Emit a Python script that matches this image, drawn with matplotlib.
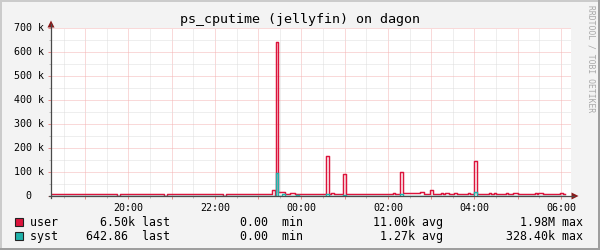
import matplotlib
matplotlib.use('Agg')
import matplotlib.pyplot as plt
from matplotlib.lines import Line2D
from matplotlib.patches import Polygon, Rectangle
from matplotlib.ticker import MultipleLocator
from matplotlib.transforms import blended_transform_factory

plt.rcParams['font.family'] = ['DejaVu Sans Mono']

# ---------------- data (values in thousands, time in hours; 24 = midnight) ----
user_t = [18.21, 19.73, 19.80, 20.82, 20.89, 22.18, 22.25, 23.32, 23.39, 23.41,
          23.46, 23.62, 23.74, 23.86, 24.57, 24.64, 24.68, 24.76, 24.96, 25.03,
          26.12, 26.17, 26.28, 26.35, 26.74, 26.83, 26.97, 27.04, 27.23, 27.27,
          27.32, 27.41, 27.53, 27.60, 27.85, 27.90, 27.99, 28.05, 28.34, 28.39,
          28.45, 28.50, 28.73, 28.78, 28.89, 29.01, 29.40, 29.45, 29.48, 29.58,
          29.98, 30.05, 30.09]
user_v = [6.5, 2.0, 6.5, 2.0, 6.5, 2.0, 6.5, 25, 6, 642,
          15, 10, 14, 9, 167, 10, 12, 8, 92, 7,
          14, 7, 101, 11, 15, 8, 24, 7, 13, 7,
          13, 7, 13, 7, 13, 7, 146, 7, 12, 7,
          12, 7, 12, 7, 12, 7, 12, 7, 12, 7,
          12, 6.5, 6.5]

syst_t = [18.21, 23.41, 23.46, 23.55, 23.62, 23.88, 23.94, 24.57, 24.64, 24.96,
          25.03, 26.28, 26.35, 27.99, 28.05, 30.09]
syst_v = [0.6, 97, 0.6, 8, 0.6, 6, 0.6, 8, 0.6, 6,
          0.6, 10, 0.6, 15, 0.6, 0.6]

y_ticks = [0, 100, 200, 300, 400, 500, 600, 700]
hour_grid = list(range(19, 31))
x_label_hours = [20, 22, 24, 26, 28, 30]
x_label_text = ["20:00", "22:00", "00:00", "02:00", "04:00", "06:00"]

series_names = ["user", "syst"]
series_colors = ["#dc143c", "#20b2aa"]
stat_last = ["6.50k", "642.86 "]
stat_min = ["0.00 ", "0.00 "]
stat_avg = ["11.00k", "1.27k"]
stat_max = ["1.98M", "328.40k"]

title = "ps_cputime (jellyfin) on dagon"
watermark = "RRDTOOL / TOBI OETIKER"

# ---------------- figure ----------------
W, H = 600, 250
fig = plt.figure(figsize=(6, 2.5), dpi=100, facecolor='#f3f3f3')


def fx(x):
    return x / W


def fy(y):
    return 1 - y / H


L, R, T, B = 51, 571, 28, 196
ax = fig.add_axes([fx(L), fy(B), (R - L) / W, (B - T) / H])
ax.set_facecolor('white')
ax.set_xlim(18.21, 18.21 + (R - L) / 43.25)
ax.set_ylim(0, 700)

for s in ax.spines.values():
    s.set_visible(False)

ax.xaxis.set_minor_locator(MultipleLocator(0.5))
ax.yaxis.set_minor_locator(MultipleLocator(50))
ax.set_xticks(hour_grid,
              labels=[x_label_text[x_label_hours.index(h)] if h in x_label_hours else ''
                      for h in hour_grid])
ax.set_yticks(y_ticks)
ax.grid(which='minor', color='#dedede', lw=0.72, ls=(0, (1, 1)), zorder=0)
ax.grid(which='major', color='#f5b4b4', lw=0.72, ls=(0, (1, 1)), zorder=0)
ax.set_axisbelow(True)
ax.tick_params(axis='x', which='major', length=2.2, width=0.72, color='#e88c8c',
               labelsize=7.2, pad=2.8, labelcolor='black')
ax.tick_params(axis='x', which='minor', length=1.5, width=0.72, color='#bbbbbb')
ax.tick_params(axis='y', which='major', length=2.2, width=0.72, color='#e88c8c',
               labelleft=False)
ax.tick_params(axis='y', which='minor', length=1.5, width=0.72, color='#bbbbbb')

# y labels (monospace, "k" suffix)
ytr = blended_transform_factory(fig.transFigure, ax.transData)
for v in y_ticks:
    lab = f"{v} k" if v else "0"
    xr = 43.8 if v else 43.8 - 12
    fig.text(fx(xr), v, lab, transform=ytr, ha='right', va='center', fontsize=7.2)

# data lines
ax.step(user_t, user_v, where='post', color=series_colors[0], lw=1.05, zorder=3)
ax.step(syst_t, syst_v, where='post', color=series_colors[1], lw=1.05, zorder=4)

# axes lines and arrows
axis_col = '#4a4a4a'
arrow_col = '#8b1a1a'
fig.add_artist(Line2D([fx(L), fx(L)], [fy(B + 2), fy(24)], transform=fig.transFigure,
                      color=axis_col, lw=0.9))
fig.add_artist(Line2D([fx(L - 2), fx(574)], [fy(B), fy(B)], transform=fig.transFigure,
                      color=axis_col, lw=0.9))
fig.add_artist(Polygon([(fx(L - 3.5), fy(27.5)), (fx(L + 3.5), fy(27.5)), (fx(L), fy(20.5))],
                       closed=True, transform=fig.transFigure, color=arrow_col, lw=0))
fig.add_artist(Polygon([(fx(571.5), fy(B - 3.5)), (fx(571.5), fy(B + 3.5)), (fx(578.5), fy(B))],
                       closed=True, transform=fig.transFigure, color=arrow_col, lw=0))

# title & watermark
fig.text(fx(300), fy(22.5), title, ha='center', va='baseline', fontsize=9.6, color='black')
fig.text(fx(591), fy(59), watermark, rotation=270, ha='center', va='center',
         fontsize=5.8, color='#a8a8a8')

# legend
base_y = [226.3, 240.3]
for i, name in enumerate(series_names):
    yb = base_y[i]
    fig.add_artist(Rectangle((fx(15), fy(yb)), 8 / W, 8 / H, transform=fig.transFigure,
                             facecolor=series_colors[i], edgecolor='#222222', lw=0.8))
    line = (f"{name:<4}{stat_last[i]:>11} last{stat_min[i]:>15} min"
            f"{stat_avg[i]:>16} avg{stat_max[i]:>16} max")
    fig.text(fx(29.5), fy(yb), line, ha='left', va='baseline', fontsize=8.37, color='black')

# 3D-ish border
fig.add_artist(Line2D([0, 1], [fy(1), fy(1)], transform=fig.transFigure, color='#cbcbcb', lw=1.44))
fig.add_artist(Line2D([fx(1), fx(1)], [0, 1], transform=fig.transFigure, color='#cbcbcb', lw=1.44))
fig.add_artist(Line2D([0, 1], [fy(249), fy(249)], transform=fig.transFigure, color='#9e9e9e', lw=1.44))
fig.add_artist(Line2D([fx(599), fx(599)], [0, 1], transform=fig.transFigure, color='#9e9e9e', lw=1.44))

fig.savefig('out.png', dpi=100, facecolor=fig.get_facecolor())
